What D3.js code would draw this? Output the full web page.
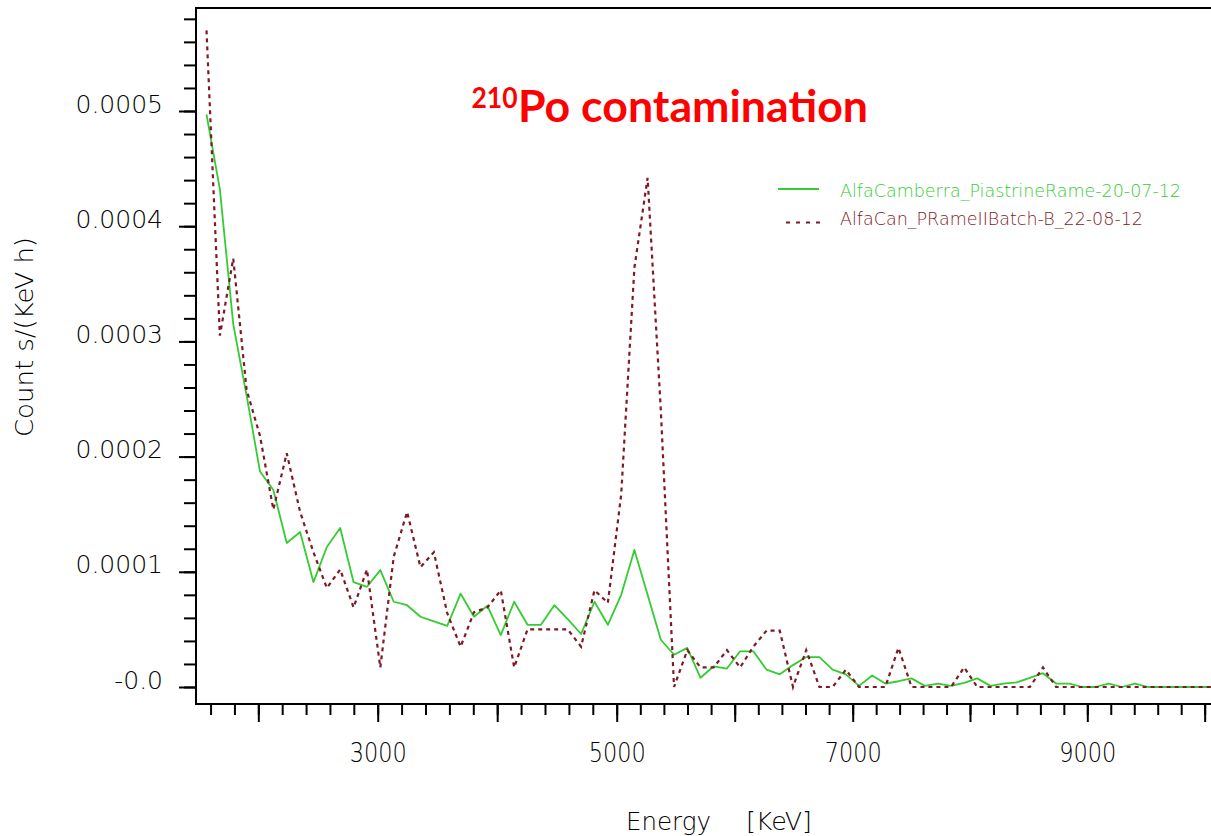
<!DOCTYPE html>
<html><head><meta charset="utf-8">
<script src="https://cdn.jsdelivr.net/npm/d3@7"></script>
<style>
html,body{margin:0;padding:0;background:#fff;}
svg{display:block;}
</style></head><body>
<svg id="chart" width="1211" height="836"></svg>
<script>
// ---- data ----
const energies = [1566,1678,1790,1902,2014,2126,2238,2350,2462,2574,2686,2798,2910,3022,3134,3246,3358,3470,3582,3694,3806,3918,4030,4142,4254,4366,4478,4590,4702,4814,4926,5038,5150,5262,5374,5486,5598,5710,5822,5934,6046,6158,6270,6382,6494,6606,6718,6830,6942,7054,7166,7278,7390,7502,7614,7726,7838,7950,8062,8174,8286,8398,8510,8622,8734,8846,8958,9070,9182,9294,9406,9518,9630,9742,9854,9966,10078];
const greenValues = [0.000497,0.000432,0.000315,0.000253,0.000187,0.000171,0.000125,0.0001345,0.000091,0.0001215,0.000138,0.000091,0.000087,0.0001015,0.000074,0.000071,0.000061,0.000057,0.000053,0.000081,0.000061,0.0000705,0.000045,0.000074,0.000054,0.000054,0.000071,0.000059,0.000046,0.000074,0.000054,0.000080,0.000119,0.000080,0.000041,0.000028,0.000034,0.000008,0.000018,0.000016,0.000031,0.000031,0.000015,0.000011,0.000019,0.000026,0.000026,0.000015,0.000011,0.000001,0.000010,0.000003,0.000005,0.0000075,0.000001,0.000003,0.000001,0.0000035,0.0000075,0.000001,0.000003,0.000004,0.000008,0.000012,0.000003,0.000003,0,0,0.000003,0,0.000003,0,0,0,0,0,0];
const redValues = [0.000570,0.000305,0.000372,0.000258,0.000218,0.000154,0.000203,0.000152,0.000117,0.000086,0.000102,0.000069,0.000102,0.000017,0.000113,0.000152,0.000104,0.000117,0.000064,0.000035,0.000065,0.000069,0.000084,0.000017,0.000050,0.000050,0.000050,0.000050,0.000035,0.000084,0.000073,0.000167,0.000364,0.000442,0.000240,0,0.000032,0.000017,0.000017,0.000032,0.000017,0.000035,0.000049,0.000049,0,0.000032,0,0,0.000015,0,0,0,0.000034,0,0,0,0,0.000017,0,0,0,0,0,0.000017,0,0,0,0,0,0,0,0,0,0,0,0,0];
const seriesNames = ["AlfaCamberra_PiastrineRame-20-07-12","AlfaCan_PRameIIBatch-B_22-08-12"];
const yMajorTicks = [0,0.0001,0.0002,0.0003,0.0004,0.0005];
const yTickLabels = ["-0.0","0.0001","0.0002","0.0003","0.0004","0.0005"];
const yMinorTicks = [0,0.00002,0.00004,0.00006,0.00008,0.0001,0.00012,0.00014,0.00016,0.00018,0.0002,0.00022,0.00024,0.00026,0.00028,0.0003,0.00032,0.00034,0.00036,0.00038,0.0004,0.00042,0.00044,0.00046,0.00048,0.0005,0.00052,0.00054,0.00056,0.00058];
const xMajorTicks = [2000,3000,4000,5000,6000,7000,8000,9000,10000];
const xLabeledTicks = [3000,5000,7000,9000];
const xTickLabels = ["3000","5000","7000","9000"];
const xMinorTicks = d3.range(1600,10001,200);

// ---- layout ----
const L = 196, T = 8, B = 704, R = 1211;
const GREEN = "#33cc33", RED = "#7e1a26";
const FONT = "'DejaVu Sans', sans-serif";
const INK = "#000";

const svg = d3.select("#chart");
svg.append("rect").attr("width",1211).attr("height",836).attr("fill","#fff");

const x = d3.scaleLinear()
  .domain([1478, 3000, 5000, 7000, 9000, 10054])
  .range([L, 377.7, 616.7, 852.7, 1087.3, R]);
const y = d3.scaleLinear().domain([0, 0.0005]).range([687, 111]);

// clip
svg.append("clipPath").attr("id","plotclip").append("rect")
  .attr("x",L).attr("y",T).attr("width",R-L+10).attr("height",B-T);

const plot = svg.append("g").attr("clip-path","url(#plotclip)");
const pts = (vals) => energies.map((e,i)=>({e, v: vals[i]}));
const line = d3.line().x(d=>x(d.e)).y(d=>y(d.v));

plot.append("path").datum(pts(greenValues))
  .attr("d", line).attr("fill","none").attr("stroke",GREEN).attr("stroke-width",1.8)
  .attr("stroke-linejoin","round");
plot.append("path").datum(pts(redValues))
  .attr("d", line).attr("fill","none").attr("stroke",RED).attr("stroke-width",2.2)
  .attr("stroke-dasharray","4,4");

// axes
const gx = svg.append("g").attr("transform",`translate(0,${B})`);
gx.call(d3.axisBottom(x).tickValues(xMinorTicks).tickSize(11).tickFormat(""));
gx.call(g=>g.select(".domain").remove());
const gx2 = svg.append("g").attr("transform",`translate(0,${B})`);
gx2.call(d3.axisBottom(x).tickValues(xMajorTicks).tickSize(18).tickPadding(22)
  .tickFormat(d => { const i = xLabeledTicks.indexOf(d); return i>=0 ? xTickLabels[i] : ""; }));
gx2.select(".domain").remove();
gx2.selectAll("text").attr("font-family",FONT).attr("font-size",26).attr("font-weight",200)
  .attr("fill",INK).attr("textLength",57).attr("lengthAdjust","spacingAndGlyphs");

const gy = svg.append("g").attr("transform",`translate(${L},0)`);
gy.call(d3.axisLeft(y).tickValues(yMinorTicks).tickSize(12).tickFormat(""));
gy.select(".domain").remove();
const gy2 = svg.append("g").attr("transform",`translate(${L},0)`);
gy2.call(d3.axisLeft(y).tickValues(yMajorTicks).tickSize(17).tickPadding(16)
  .tickFormat(d => yTickLabels[yMajorTicks.indexOf(d)]));
gy2.select(".domain").remove();
gy2.selectAll("text").attr("font-family",FONT).attr("font-size",25).attr("font-weight",200)
  .attr("fill",INK).attr("dy","1");

svg.selectAll(".tick line").attr("stroke","#000").attr("stroke-width",2);

// frame
svg.append("path").attr("d",`M${R+5},${T}H${L}V${B}H${R+5}`)
  .attr("fill","none").attr("stroke","#000").attr("stroke-width",2);

// axis titles
svg.append("text").attr("transform","translate(33,337) rotate(-90)")
  .attr("text-anchor","middle").attr("font-family",FONT).attr("font-size",24).attr("font-weight",200)
  .attr("fill",INK).attr("textLength",200).attr("lengthAdjust","spacingAndGlyphs")
  .text("Count s/(KeV h)");
svg.append("text").attr("x",626).attr("y",830).attr("font-family",FONT).attr("font-size",24)
  .attr("font-weight",200).attr("fill",INK).attr("textLength",85).attr("lengthAdjust","spacingAndGlyphs")
  .text("Energy");
svg.append("text").attr("x",746).attr("y",830).attr("font-family",FONT).attr("font-size",24)
  .attr("font-weight",200).attr("fill",INK).attr("textLength",66).attr("lengthAdjust","spacingAndGlyphs")
  .text("[KeV]");

// legend
const leg = svg.append("g");
leg.append("line").attr("x1",778).attr("x2",819).attr("y1",189).attr("y2",189)
  .attr("stroke",GREEN).attr("stroke-width",1.8);
leg.append("text").attr("x",840).attr("y",196.5).attr("font-family",FONT).attr("font-size",18)
  .attr("font-weight",200).attr("fill",GREEN).attr("textLength",341).attr("lengthAdjust","spacingAndGlyphs")
  .text(seriesNames[0]);
leg.append("line").attr("x1",786).attr("x2",821).attr("y1",222.5).attr("y2",222.5)
  .attr("stroke",RED).attr("stroke-width",2).attr("stroke-dasharray","4,6");
leg.append("text").attr("x",840).attr("y",225).attr("font-family",FONT).attr("font-size",18)
  .attr("font-weight",200).attr("fill",RED).attr("textLength",303).attr("lengthAdjust","spacingAndGlyphs")
  .text(seriesNames[1]);

// title
svg.append("text").attr("x",471.5).attr("y",108).attr("font-family","Lato, 'Open Sans', sans-serif")
  .attr("font-weight",700).attr("font-size",28).attr("fill","#ff0000")
  .attr("textLength",46).attr("lengthAdjust","spacingAndGlyphs").text("210");
svg.append("text").attr("x",518).attr("y",122).attr("font-family","Lato, 'Open Sans', sans-serif")
  .attr("font-weight",700).attr("font-size",44).attr("fill","#ff0000")
  .attr("textLength",350).attr("lengthAdjust","spacingAndGlyphs").text("Po contamination");
</script>
</body></html>
